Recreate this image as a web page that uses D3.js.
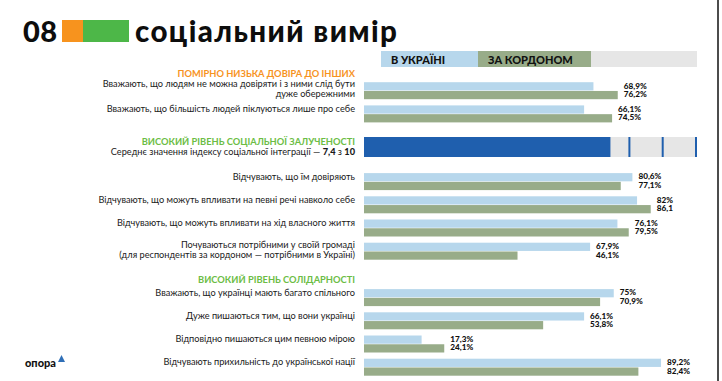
<!DOCTYPE html>
<html>
<head>
<meta charset="utf-8">
<script src="https://cdn.jsdelivr.net/npm/d3@7"></script>
<style>
  body { margin: 0; background: #fff; }
  svg { display: block; }
</style>
</head>
<body>
<div id="chartDIV"></div>
<script>
// ---- chart data
var legendLabels = ["В УКРАЇНІ", "ЗА КОРДОНОМ"]
var groupTitles = [
  "ПОМІРНО НИЗЬКА ДОВІРА ДО ІНШИХ",
  "ВИСОКИЙ РІВЕНЬ СОЦІАЛЬНОЇ ЗАЛУЧЕНОСТІ",
  "ВИСОКИЙ РІВЕНЬ СОЛІДАРНОСТІ"
]

var trustLabels = [
  ["Вважають, що людям не можна довіряти і з ними слід бути", "дуже обережними"],
  ["Вважають, що більшість людей піклуються лише про себе"]
]
var trustUkraine = [68.9, 66.1]
var trustAbroad = [76.2, 74.5]

var inclusionLabels = [
  ["Відчувають, що їм довіряють"],
  ["Відчувають, що можуть впливати на певні речі навколо себе"],
  ["Відчувають, що можуть впливати на хід власного життя"],
  ["Почуваються потрібними у своїй громаді", "(для респондентів за кордоном — потрібними в Україні)"]
]
var inclusionUkraine = [80.6, 82, 76.1, 67.9]
var inclusionAbroad = [77.1, 86.1, 79.5, 46.1]

var solidarityLabels = [
  ["Вважають, що українці мають багато спільного"],
  ["Дуже пишаються тим, що вони українці"],
  ["Відповідно пишаються цим певною мірою"],
  ["Відчувають прихильність до української нації"]
]
var solidarityUkraine = [75, 66.1, 17.3, 89.2]
var solidarityAbroad = [70.9, 53.8, 24.1, 82.4]

// index of social integration
var indexValue = 7.4
var indexMax = 10
var indexTicks = [8, 9, 10]

// on the slide this one value is printed without the % sign
var noPercent = [{group: 1, row: 1, series: 1}]

// ---- look
var width = 722
var height = 381
var colUkraine = "#b7d7ec"
var colAbroad = "#98ac89"
var colIndex = "#1f5fae"
var colTrack = "#e6e6e6"
var colOrange = "#f7931e"
var colGreen = "#4db748"
var colHeadGreen = "#6cbd45"
var textFont = "Lato, 'Open Sans', sans-serif"
var labelSize = "9.2px"
var headSize = "9.3px"

var labelRight = 355   // right edge of the row labels
var rowStep = 23.2     // one pair of bars
var rowBars = 17       // both bars of a row

var x = d3.scaleLinear().domain([0, 100]).range([364, 697])
var xIndex = d3.scaleLinear().domain([0, indexMax]).range([364, 697])
var pair = d3.scaleBand().domain([0, 1]).range([0, rowBars]).paddingInner(0.06)

var groups = [
  {title: groupTitles[0], color: colOrange, labels: trustLabels, ua: trustUkraine, ab: trustAbroad},
  {title: groupTitles[1], color: colHeadGreen, labels: inclusionLabels, ua: inclusionUkraine, ab: inclusionAbroad, index: true},
  {title: groupTitles[2], color: colHeadGreen, labels: solidarityLabels, ua: solidarityUkraine, ab: solidarityAbroad}
]

function fmt(v, g, r, s){
  var txt = String(v).replace(".", ",")
  var plain = noPercent.some(function(d){ return d.group == g && d.row == r && d.series == s })
  return plain ? txt : txt + "%"
}

var svg = d3.select("#chartDIV").append("svg")
  .attr("width", width)
  .attr("height", height)

svg.append("rect")
  .attr("width", width)
  .attr("height", height)
  .style("fill", "#fff")

// ---- title
svg.append("text")
  .attr("x", 23)
  .attr("y", 42)
  .text("08")
  .style("font-family", textFont)
  .style("font-weight", 900)
  .style("font-size", "29px")
  .style("letter-spacing", "0.5px")
  .style("fill", "#0d0d0d")

svg.append("rect")
  .attr("x", 62).attr("y", 20)
  .attr("width", 21).attr("height", 22)
  .style("fill", colOrange)
svg.append("rect")
  .attr("x", 83).attr("y", 20)
  .attr("width", 46).attr("height", 22)
  .style("fill", colGreen)

svg.append("text")
  .attr("x", 135)
  .attr("y", 42)
  .text("соціальний вимір")
  .style("font-family", textFont)
  .style("font-weight", 900)
  .style("font-size", "29.5px")
  .style("letter-spacing", "1.4px")
  .style("fill", "#0d0d0d")

// ---- legend
var legendX = [381, 478, 591]
svg.append("rect")
  .attr("x", legendX[0]).attr("y", 51)
  .attr("width", x(100) - legendX[0]).attr("height", 16)
  .style("fill", colTrack)
legendLabels.forEach(function(lbl, i){
  svg.append("rect")
    .attr("x", legendX[i]).attr("y", 51)
    .attr("width", legendX[i+1] - legendX[i]).attr("height", 16)
    .style("fill", i == 0 ? colUkraine : colAbroad)
  svg.append("text")
    .attr("x", legendX[i] + 10)
    .attr("y", 63.5)
    .text(lbl)
    .style("font-family", textFont)
    .style("font-weight", 900)
    .style("font-size", "11px")
    .style("fill", "#111")
})

// ---- rows
var cursor = 59
groups.forEach(function(grp, g){
  var gEl = svg.append("g")

  if (grp.index){
    // the index bar takes the place of the header row
    var top = cursor + 8.4
    gEl.append("rect")
      .attr("x", xIndex(0)).attr("y", top)
      .attr("width", xIndex(indexMax) - xIndex(0)).attr("height", 20)
      .style("fill", colTrack)
    gEl.append("rect")
      .attr("x", xIndex(0)).attr("y", top)
      .attr("width", xIndex(indexValue) - xIndex(0)).attr("height", 20)
      .style("fill", colIndex)
    gEl.selectAll(".idxTick")
      .data(indexTicks)
      .join("line")
      .attr("class", "idxTick")
      .attr("x1", function(d){ return xIndex(d) - 1 })
      .attr("x2", function(d){ return xIndex(d) - 1 })
      .attr("y1", top).attr("y2", top + 20)
      .style("stroke", colIndex)
      .style("stroke-width", 2)
    gEl.append("text")
      .attr("x", labelRight).attr("y", top + 8)
      .attr("text-anchor", "end")
      .text(grp.title)
      .style("font-family", textFont)
      .style("font-weight", 700)
      .style("font-size", headSize)
      .style("fill", grp.color)
    var idx = gEl.append("text")
      .attr("x", labelRight).attr("y", top + 17.5)
      .attr("text-anchor", "end")
      .style("font-family", textFont)
      .style("font-size", labelSize)
      .style("fill", "#1a1a1a")
    idx.append("tspan").text("Середнє значення індексу соціальної інтеграції — ")
    idx.append("tspan").text(String(indexValue).replace(".", ",")).style("font-weight", 900)
    idx.append("tspan").text(" з ")
    idx.append("tspan").text(String(indexMax)).style("font-weight", 900)
    cursor += 44.5
  } else {
    gEl.append("text")
      .attr("x", labelRight).attr("y", cursor + 17.5)
      .attr("text-anchor", "end")
      .text(grp.title)
      .style("font-family", textFont)
      .style("font-weight", 700)
      .style("font-size", headSize)
      .style("fill", grp.color)
    cursor += rowStep
  }

  grp.labels.forEach(function(lines, r){
    var top = cursor
    var vals = [grp.ua[r], grp.ab[r]]

    // row label, one or two lines
    var t = gEl.append("text")
      .attr("text-anchor", "end")
      .style("font-family", textFont)
      .style("font-size", labelSize)
      .style("fill", "#1a1a1a")
    lines.forEach(function(line, k){
      t.append("tspan")
        .attr("x", labelRight)
        .attr("y", top + (lines.length > 1 ? 5 : 6.5) + k * 10)
        .text(line)
    })

    gEl.selectAll(".bar" + g + "_" + r)
      .data(vals)
      .join("rect")
      .attr("class", "bar" + g + "_" + r)
      .attr("x", x(0))
      .attr("y", function(d, i){ return top + pair(i) })
      .attr("width", function(d){ return x(d) - x(0) })
      .attr("height", pair.bandwidth())
      .style("fill", function(d, i){ return i == 0 ? colUkraine : colAbroad })

    // value labels sit just right of the longer bar
    var lx = x(d3.max(vals)) + 6
    gEl.selectAll(".val" + g + "_" + r)
      .data(vals)
      .join("text")
      .attr("class", "val" + g + "_" + r)
      .attr("x", lx)
      .attr("y", function(d, i){ return top + 6.3 + i * 8.6 })
      .text(function(d, i){ return fmt(d, g, r, i) })
      .style("font-family", textFont)
      .style("font-weight", 900)
      .style("font-size", "8.2px")
      .style("fill", "#111")

    cursor += rowStep
  })
})

// ---- logo and frame
svg.append("text")
  .attr("x", 25).attr("y", 367)
  .text("опора")
  .style("font-family", textFont)
  .style("font-weight", 900)
  .style("font-size", "11px")
  .style("fill", "#111")
svg.append("path")
  .attr("d", "M58,362 L61.5,355 L65,362 Z")
  .style("fill", "#2f6fb7")

svg.append("line")
  .attr("x1", 718).attr("x2", 718)
  .attr("y1", 0).attr("y2", height)
  .style("stroke", "#111")
  .style("stroke-width", 1.5)
</script>
</body>
</html>
